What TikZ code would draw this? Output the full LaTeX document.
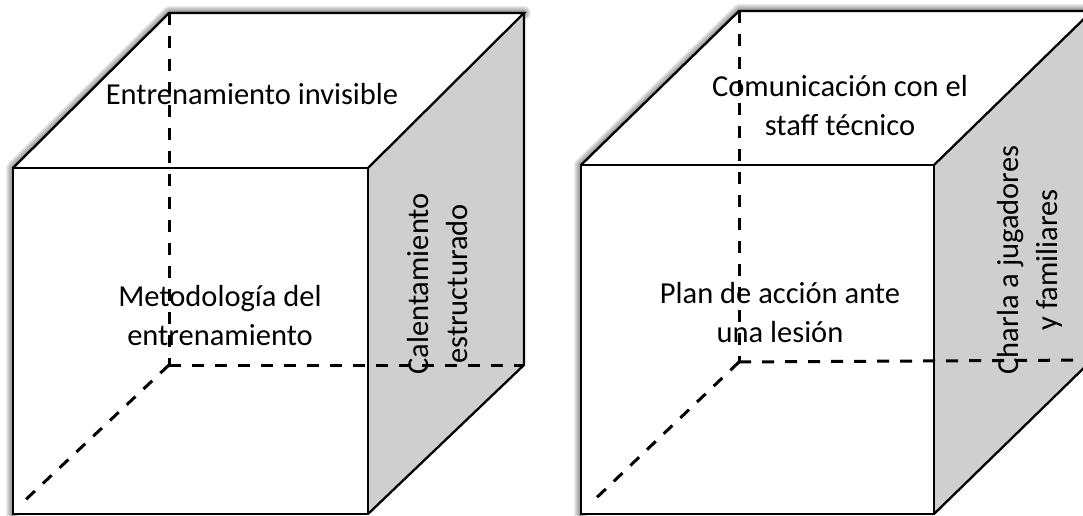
\documentclass[tikz,border=0pt]{standalone}
\usepackage{fontspec}
\setmainfont{Carlito}
\begin{document}
\begin{tikzpicture}[x=1pt,y=-1pt,
  edge/.style={line width=2.3pt, line join=miter, draw=black},
  hidden/.style={line width=3pt, dash pattern=on 12pt off 11pt, draw=black},
  lbl/.style={font=\fontsize{30.5}{39}\selectfont, align=center, inner sep=0pt},
  sideface/.style={fill=black!19},
  plainface/.style={fill=white},
  shade/.style={line width=#1, draw=black, opacity=0.07, line join=round, line cap=round}]
\useasboundingbox (0,0) rectangle (1083,516);
\clip (0,0) rectangle (1083,516);
\fill[white] (0,0) rectangle (1083,516);

% ---------- left cube ----------
\coordinate (aFTL) at (13,168);
\coordinate (aFTR) at (368,168);
\coordinate (aFBR) at (368,514);
\coordinate (aFBL) at (13,514);
\coordinate (aBTL) at (169,13);
\coordinate (aBTR) at (524,13);
\coordinate (aBBR) at (524,365);
\coordinate (aBBL) at (169,365);
\coordinate (aEnd) at (20,505);

\begin{scope}[xshift=-5pt, yshift=1pt]
\foreach \w in {2,4,6,8,10,12,14}
  \draw[shade=\w pt] (aFBL) -- (aFTL) -- (aBTL) -- (aBTR);
\end{scope}
\path[plainface] (aFTL) -- (aFTR) -- (aFBR) -- (aFBL) -- cycle;
\path[plainface] (aFTL) -- (aBTL) -- (aBTR) -- (aFTR) -- cycle;
\path[sideface] (aFTR) -- (aBTR) -- (aBBR) -- (aFBR) -- cycle;
\draw[edge] (aFTL) -- (aFTR) -- (aFBR) -- (aFBL) -- cycle;
\draw[edge] (aFTL) -- (aBTL) -- (aBTR) -- (aFTR);
\draw[edge] (aBTR) -- (aBBR) -- (aFBR);

\node[lbl, anchor=base] (t1) at (252,105) {Entrenamiento invisible};
\node[lbl] (t2) at (220,316) {Metodología del\\entrenamiento};
\node[lbl, rotate=90] (t3) at (438,284) {Calentamiento\\estructurado};

\draw[hidden] (aBTL) -- (aBBL);
\draw[hidden] (aBBL) -- (aBBR);
\draw[hidden] (aBBL) -- (aEnd);

% ---------- right cube ----------
\coordinate (bFTL) at (581,165);
\coordinate (bFTR) at (934,165);
\coordinate (bFBR) at (934,514);
\coordinate (bFBL) at (581,514);
\coordinate (bBTL) at (739,11);
\coordinate (bBTR) at (1092,11);
\coordinate (bBBR) at (1092,360);
\coordinate (bBBL) at (739,362);
\coordinate (bEnd) at (591,503);

\begin{scope}[xshift=-5pt, yshift=1pt]
\foreach \w in {2,4,6,8,10,12,14}
  \draw[shade=\w pt] (bFBL) -- (bFTL) -- (bBTL) -- (bBTR);
\end{scope}
\path[plainface] (bFTL) -- (bFTR) -- (bFBR) -- (bFBL) -- cycle;
\path[plainface] (bFTL) -- (bBTL) -- (bBTR) -- (bFTR) -- cycle;
\path[sideface] (bFTR) -- (bBTR) -- (bBBR) -- (bFBR) -- cycle;
\draw[edge] (bFTL) -- (bFTR) -- (bFBR) -- (bFBL) -- cycle;
\draw[edge] (bFTL) -- (bBTL) -- (bBTR) -- (bFTR);
\draw[edge] (bBTR) -- (bBBR) -- (bFBR);

\node[lbl] (t4) at (840,106) {Comunicación con el\\staff técnico};
\node[lbl] (t5) at (780,313) {Plan de acción ante\\una lesión};
\node[lbl, rotate=90] (t6) at (1030,260) {Charla a jugadores\\y familiares};

\draw[hidden] (bBTL) -- (bBBL);
\draw[hidden] (bBBL) -- (bBBR);
\draw[hidden] (bBBL) -- (bEnd);
\end{tikzpicture}
\end{document}
